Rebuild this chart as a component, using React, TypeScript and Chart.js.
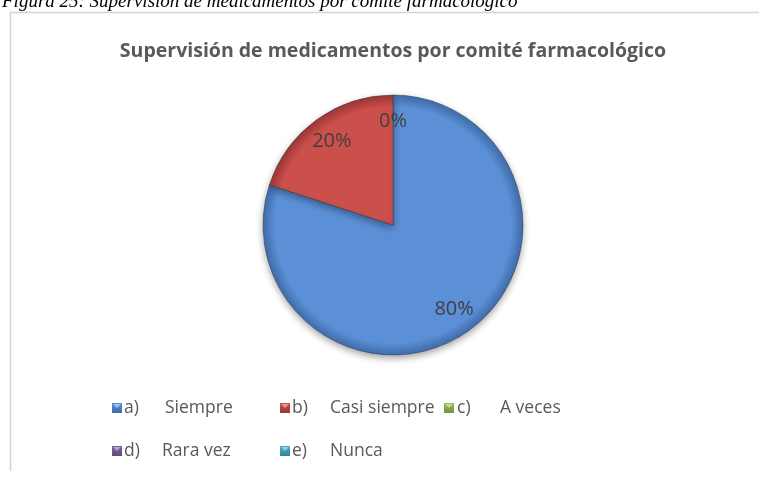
import React, { useEffect, useRef } from "react";
import { Chart, registerables } from "chart.js";

Chart.register(...registerables);

const captionText = "Figura 25: Supervisión de medicamentos por comité farmacológico";
const chartTitle = "Supervisión de medicamentos por comité farmacológico";
const prefixes = ["a)", "b)", "c)", "d)", "e)"];
const categories = ["Siempre", "Casi siempre", "A veces", "Rara vez", "Nunca"];
const percentages = [80, 20, 0, 0, 0];
const baseColors = ["#5b8fd6", "#cb4f4b", "#9bbb59", "#8064a2", "#4bacc6"];
const edgeColors = ["#3e6aa8", "#9a3532", "#76923c", "#5f4a7b", "#31859c"];

const FONT = "'Open Sans', Lato, sans-serif";

// legend layout (positions only)
const legendSlots = [
  { x: 112, y: 408, tx: 124, nx: 165 },
  { x: 280, y: 408, tx: 292, nx: 330 },
  { x: 444, y: 408, tx: 457, nx: 500 },
  { x: 112, y: 451, tx: 124, nx: 162 },
  { x: 280, y: 451, tx: 292, nx: 330 },
];

const decorPlugin = {
  id: "decor",
  beforeDraw(chart: any) {
    const ctx = chart.ctx;
    ctx.save();
    ctx.fillStyle = "#ffffff";
    ctx.fillRect(0, 0, chart.width, chart.height);
    ctx.fillStyle = "#000000";
    ctx.font = "italic 19px 'Liberation Serif', 'DejaVu Serif', serif";
    ctx.textBaseline = "alphabetic";
    ctx.textAlign = "left";
    ctx.fillText(captionText, 2, 7);
    ctx.strokeStyle = "#d4d4d4";
    ctx.lineWidth = 1.5;
    ctx.beginPath();
    ctx.moveTo(10.5, 471);
    ctx.lineTo(10.5, 12.5);
    ctx.lineTo(chart.width, 12.5);
    ctx.stroke();
    ctx.restore();
  },
  beforeDatasetsDraw(chart: any) {
    const ctx = chart.ctx;
    ctx.save();
    ctx.shadowColor = "rgba(0,0,0,0.35)";
    ctx.shadowBlur = 7;
    ctx.shadowOffsetY = 3;
  },
  afterDatasetsDraw(chart: any) {
    chart.ctx.restore();
    const ctx = chart.ctx;
    const meta = chart.getDatasetMeta(0);
    const ds = chart.data.datasets[0].data as number[];
    ctx.save();
    ctx.fillStyle = "#404040";
    ctx.font = "20px " + FONT;
    ctx.textAlign = "center";
    ctx.textBaseline = "middle";
    const seen: string[] = [];
    meta.data.forEach((arc: any, i: number) => {
      const { x, y, startAngle, endAngle, outerRadius } = arc.getProps(
        ["x", "y", "startAngle", "endAngle", "outerRadius"],
        true
      );
      const mid = (startAngle + endAngle) / 2;
      const r = outerRadius * 0.8;
      const lx = x + Math.cos(mid) * r;
      const ly = y + Math.sin(mid) * r;
      const key = Math.round(lx) + "," + Math.round(ly);
      if (seen.includes(key)) return;
      seen.push(key);
      ctx.fillText(ds[i] + "%", lx, ly);
    });
    ctx.restore();
  },
  afterDraw(chart: any) {
    const ctx = chart.ctx;
    ctx.save();
    ctx.fillStyle = "#595959";
    ctx.font = "bold 19.5px " + FONT;
    ctx.textAlign = "center";
    ctx.textBaseline = "middle";
    ctx.fillText(chartTitle, 393, 51);
    ctx.font = "17.5px " + FONT;
    ctx.textAlign = "left";
    categories.forEach((name, i) => {
      const s = legendSlots[i];
      const g = ctx.createLinearGradient(s.x, s.y - 5, s.x, s.y + 5);
      g.addColorStop(0, baseColors[i]);
      g.addColorStop(1, edgeColors[i]);
      ctx.fillStyle = g;
      ctx.fillRect(s.x, s.y - 5, 10, 10);
      ctx.fillStyle = "rgba(255,255,255,0.45)";
      ctx.beginPath();
      ctx.moveTo(s.x + 1, s.y - 4);
      ctx.lineTo(s.x + 9, s.y - 4);
      ctx.lineTo(s.x + 5, s.y);
      ctx.closePath();
      ctx.fill();
      ctx.fillStyle = "#595959";
      ctx.fillText(prefixes[i], s.tx, s.y);
      ctx.fillText(name, s.nx, s.y);
    });
    ctx.restore();
  },
};

function sliceFill(c: any) {
  const i = c.dataIndex ?? 0;
  const chart = c.chart;
  const area = chart.chartArea;
  if (!area) return baseColors[i];
  const cx = (area.left + area.right) / 2;
  const cy = (area.top + area.bottom) / 2;
  const g = chart.ctx.createRadialGradient(cx, cy, 0, cx, cy, 131);
  g.addColorStop(0, baseColors[i]);
  g.addColorStop(0.9, baseColors[i]);
  g.addColorStop(1, edgeColors[i]);
  return g;
}

export default function App() {
  const ref = useRef<HTMLCanvasElement | null>(null);
  useEffect(() => {
    if (!ref.current) return;
    const chart = new Chart(ref.current, {
      type: "pie",
      data: {
        labels: categories.map((c, i) => prefixes[i] + " " + c),
        datasets: [
          {
            data: percentages,
            backgroundColor: sliceFill as any,
            borderColor: "rgba(40,50,70,0.55)",
            borderWidth: 0.8,
          },
        ],
      },
      options: {
        responsive: false,
        animation: false,
        radius: 130,
        layout: { padding: { left: 262, right: 235, top: 95, bottom: 122 } },
        plugins: {
          legend: { display: false },
          title: { display: false },
          tooltip: { enabled: false },
        },
      } as any,
      plugins: [decorPlugin],
    });
    return () => chart.destroy();
  }, []);
  return (
    <div style={{ position: "fixed", left: 0, top: 0, width: 759, height: 477, background: "#fff" }}>
      <canvas ref={ref} width={759} height={477} style={{ width: 759, height: 477 }} />
    </div>
  );
}
